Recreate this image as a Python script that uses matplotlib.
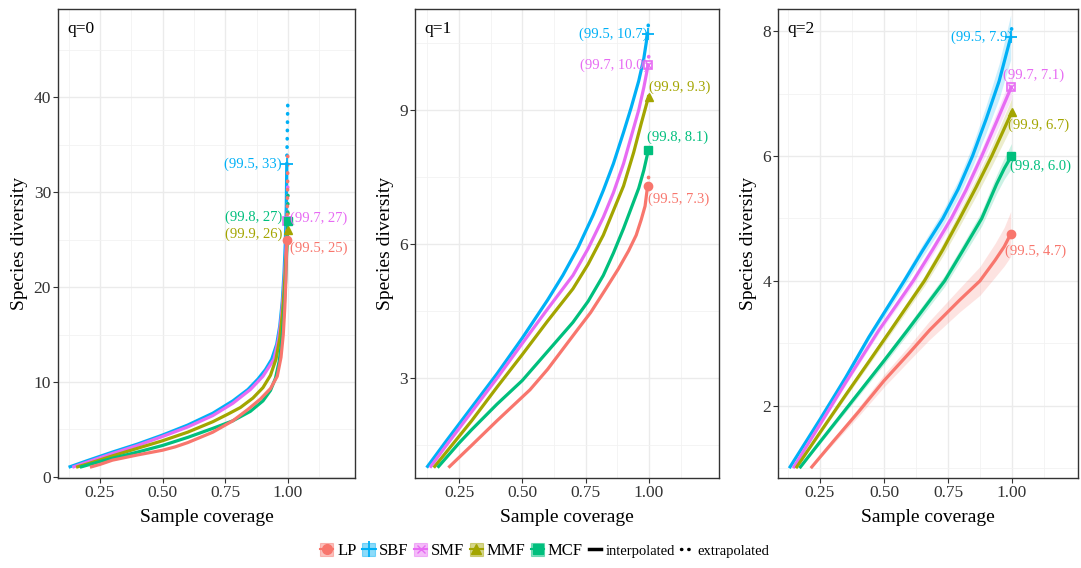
import matplotlib
matplotlib.use("Agg")
import matplotlib.pyplot as plt
from matplotlib.lines import Line2D
from matplotlib.patches import Patch
from matplotlib.legend_handler import HandlerTuple
from matplotlib.ticker import FixedLocator

plt.rcParams['font.family'] = ['Liberation Serif', 'DejaVu Serif']

names = ['LP', 'SBF', 'SMF', 'MMF', 'MCF']
colors = {'LP': '#F8766D', 'SBF': '#00B0F6', 'SMF': '#E76BF3',
          'MMF': '#A3A500', 'MCF': '#00BF7D'}
markers = {'LP': 'o', 'SBF': '+', 'SMF': 's', 'MMF': '^', 'MCF': 's'}

# ---- q = 0 ----
q0_x = {
    'SBF': [0.125, 0.2, 0.3, 0.4, 0.5, 0.6, 0.7, 0.78, 0.84, 0.88, 0.91, 0.935, 0.955, 0.967, 0.977, 0.984, 0.989, 0.993, 0.995],
    'SMF': [0.14, 0.2, 0.3, 0.4, 0.5, 0.6, 0.7, 0.78, 0.85, 0.9, 0.944, 0.962, 0.972, 0.982, 0.989, 0.994, 0.997],
    'MMF': [0.155, 0.2, 0.3, 0.4, 0.5, 0.6, 0.7, 0.76, 0.81, 0.86, 0.9, 0.93, 0.952, 0.967, 0.978, 0.986, 0.992, 0.999],
    'MCF': [0.17, 0.25, 0.3, 0.4, 0.5, 0.6, 0.7, 0.78, 0.85, 0.9, 0.93, 0.95, 0.965, 0.976, 0.984, 0.99, 0.995, 0.998],
    'LP':  [0.21, 0.25, 0.3, 0.4, 0.5, 0.55, 0.6, 0.7, 0.78, 0.84, 0.89, 0.93, 0.957, 0.972, 0.981, 0.987, 0.991, 0.995],
}
q0_y = {
    'SBF': [1, 1.7, 2.6, 3.45, 4.4, 5.45, 6.7, 8.0, 9.2, 10.3, 11.3, 12.4, 14.0, 15.9, 18.5, 21.5, 24.5, 28.5, 33],
    'SMF': [1, 1.55, 2.45, 3.3, 4.25, 5.25, 6.45, 7.75, 9.2, 10.6, 12.4, 14.5, 16.5, 19.4, 22.5, 25, 27],
    'MMF': [1, 1.35, 2.2, 3.0, 3.8, 4.7, 5.8, 6.6, 7.3, 8.3, 9.4, 10.7, 12.4, 14.6, 17.3, 20.3, 23, 26],
    'MCF': [1, 1.6, 1.95, 2.6, 3.3, 4.15, 5.1, 5.9, 6.9, 8.0, 9.1, 10.4, 12.2, 14.6, 17.5, 20.5, 24, 27],
    'LP':  [1, 1.3, 1.75, 2.3, 2.8, 3.15, 3.6, 4.7, 5.9, 7.1, 8.2, 9.3, 10.6, 12.6, 15, 17.8, 20.5, 25],
}
q0_ext_x = {'SBF': [0.995, 0.997, 0.999], 'SMF': [0.997, 0.999], 'MMF': [0.999, 1.0],
            'MCF': [0.998, 0.9995], 'LP': [0.995, 0.998, 0.999]}
q0_ext_y = {'SBF': [33, 36, 39.4], 'SMF': [27, 31], 'MMF': [26, 28.5],
            'MCF': [27, 30], 'LP': [25, 30, 34.5]}
q0_labels = {'SBF': '(99.5, 33)', 'SMF': '(99.7, 27)', 'MMF': '(99.9, 26)',
             'MCF': '(99.8, 27)', 'LP': '(99.5, 25)'}

# ---- q = 1 ----
q1_x = {
    'SBF': [0.122, 0.2, 0.3, 0.4, 0.5, 0.6, 0.66, 0.72, 0.78, 0.82, 0.86, 0.9, 0.93, 0.96, 0.98, 0.995],
    'SMF': [0.135, 0.2, 0.3, 0.4, 0.5, 0.6, 0.7, 0.76, 0.82, 0.86, 0.9, 0.93, 0.96, 0.98, 0.997],
    'MMF': [0.15, 0.2, 0.3, 0.4, 0.5, 0.6, 0.7, 0.76, 0.82, 0.86, 0.9, 0.94, 0.97, 0.999],
    'MCF': [0.165, 0.25, 0.3, 0.4, 0.5, 0.6, 0.7, 0.76, 0.82, 0.86, 0.9, 0.93, 0.96, 0.98, 0.998],
    'LP':  [0.208, 0.3, 0.4, 0.53, 0.6, 0.66, 0.72, 0.77, 0.83, 0.88, 0.92, 0.95, 0.97, 0.985, 0.995],
}
q1_y = {
    'SBF': [1, 1.6, 2.35, 3.1, 3.9, 4.75, 5.3, 5.92, 6.65, 7.2, 7.8, 8.5, 9.05, 9.65, 10.15, 10.7],
    'SMF': [1, 1.5, 2.25, 3.0, 3.78, 4.55, 5.3, 5.9, 6.6, 7.15, 7.8, 8.4, 9.0, 9.5, 10.0],
    'MMF': [1, 1.35, 2.05, 2.8, 3.53, 4.28, 5.0, 5.55, 6.2, 6.75, 7.3, 8.05, 8.7, 9.3],
    'MCF': [1, 1.55, 1.85, 2.42, 2.95, 3.6, 4.25, 4.72, 5.3, 5.8, 6.35, 6.8, 7.25, 7.65, 8.1],
    'LP':  [1, 1.5, 2.05, 2.74, 3.2, 3.65, 4.1, 4.47, 5.0, 5.45, 5.85, 6.2, 6.55, 6.85, 7.3],
}
q1_ext_x = {'SBF': [0.995, 0.999], 'SMF': [0.997, 0.9995], 'MMF': [0.999, 1.0],
            'MCF': [0.998, 0.9995], 'LP': [0.995, 0.999]}
q1_ext_y = {'SBF': [10.7, 11.0], 'SMF': [10.0, 10.2], 'MMF': [9.3, 9.4],
            'MCF': [8.1, 8.2], 'LP': [7.3, 7.5]}
q1_labels = {'SBF': '(99.5, 10.7)', 'SMF': '(99.7, 10.0)', 'MMF': '(99.9, 9.3)',
             'MCF': '(99.8, 8.1)', 'LP': '(99.5, 7.3)'}

# ---- q = 2 ----
q2_x = {
    'SBF': [0.13, 0.25, 0.35, 0.441, 0.51, 0.579, 0.65, 0.73, 0.79, 0.846, 0.9, 0.95, 0.995],
    'SMF': [0.145, 0.25, 0.35, 0.48, 0.55, 0.614, 0.69, 0.763, 0.82, 0.882, 0.94, 0.997],
    'MMF': [0.156, 0.25, 0.35, 0.44, 0.526, 0.658, 0.73, 0.796, 0.86, 0.921, 0.96, 0.999],
    'MCF': [0.17, 0.25, 0.4, 0.5, 0.592, 0.737, 0.81, 0.882, 0.94, 0.97, 0.998],
    'LP':  [0.214, 0.3, 0.4, 0.5, 0.6, 0.678, 0.795, 0.875, 0.934, 0.97, 0.995],
}
q2_y = {
    'SBF': [1, 1.78, 2.45, 3.1, 3.55, 4.0, 4.48, 5.0, 5.47, 6.0, 6.6, 7.2, 7.9],
    'SMF': [1, 1.7, 2.37, 3.21, 3.62, 4.0, 4.5, 5.0, 5.45, 6.0, 6.55, 7.1],
    'MMF': [1, 1.57, 2.17, 2.7, 3.21, 4.0, 4.5, 5.0, 5.5, 6.0, 6.35, 6.7],
    'MCF': [1, 1.42, 2.2, 2.72, 3.21, 4.0, 4.5, 5.0, 5.55, 5.8, 6.0],
    'LP':  [1, 1.42, 1.9, 2.4, 2.85, 3.21, 3.69, 4.0, 4.33, 4.55, 4.75],
}
q2_band = {
    'SBF': [0, 0.03, 0.04, 0.05, 0.07, 0.08, 0.1, 0.12, 0.14, 0.17, 0.22, 0.28, 0.36],
    'SMF': [0, 0.03, 0.04, 0.05, 0.06, 0.07, 0.08, 0.09, 0.1, 0.12, 0.15, 0.18],
    'MMF': [0, 0.03, 0.04, 0.05, 0.06, 0.08, 0.1, 0.12, 0.14, 0.16, 0.19, 0.22],
    'MCF': [0, 0.03, 0.05, 0.06, 0.07, 0.09, 0.1, 0.12, 0.15, 0.17, 0.2],
    'LP':  [0, 0.04, 0.07, 0.1, 0.12, 0.15, 0.19, 0.23, 0.27, 0.31, 0.36],
}
q2_ext_x = {'SBF': [0.995, 0.999], 'SMF': [0.997, 0.9995], 'MMF': [0.999, 1.0],
            'MCF': [0.998, 0.9995], 'LP': [0.995, 0.999]}
q2_ext_y = {'SBF': [7.9, 8.05], 'SMF': [7.1, 7.2], 'MMF': [6.7, 6.75],
            'MCF': [6.0, 6.05], 'LP': [4.75, 4.85]}
q2_labels = {'SBF': '(99.5, 7.9)', 'SMF': '(99.7, 7.1)', 'MMF': '(99.9, 6.7)',
             'MCF': '(99.8, 6.0)', 'LP': '(99.5, 4.7)'}

# label placement: (ha, dx in points, dy in data units)
q0_place = {'SBF': ('right', -4, 0), 'SMF': ('left', 2, 0.3), 'MMF': ('right', -4, -0.4),
            'MCF': ('right', -4, 0.4), 'LP': ('left', 2, -0.9)}
q1_place = {'SBF': ('right', 0, 0), 'SMF': ('right', 0, 0), 'MMF': ('left', 0, 0.2),
            'MCF': ('left', -1, 0.3), 'LP': ('left', 0, -0.3)}
q2_place = {'SBF': ('right', 1, 0), 'SMF': ('left', -6, 0.2), 'MMF': ('left', -3, -0.2),
            'MCF': ('left', -1, -0.16), 'LP': ('left', -4, -0.27)}

panels = [
    ('q=0', q0_x, q0_y, None, q0_ext_x, q0_ext_y, q0_labels, q0_place,
     (-0.1, 49.3), [0, 10, 20, 30, 40], [5, 15, 25, 35, 45]),
    ('q=1', q1_x, q1_y, None, q1_ext_x, q1_ext_y, q1_labels, q1_place,
     (0.776, 11.25), [3, 6, 9], [1.5, 4.5, 7.5, 10.5]),
    ('q=2', q2_x, q2_y, q2_band, q2_ext_x, q2_ext_y, q2_labels, q2_place,
     (0.848, 8.35), [2, 4, 6, 8], [1, 3, 5, 7]),
]
# axes rectangles (figure fractions)
rects = [[0.0537, 0.159, 0.2747, 0.8246],
         [0.3839, 0.159, 0.2812, 0.8246],
         [0.7197, 0.159, 0.2775, 0.8246]]
xlims = [(0.083, 1.267), (0.076, 1.277), (0.086, 1.258)]

fig = plt.figure(figsize=(10.81, 5.68), dpi=100)

for rect, xl, p in zip(rects, xlims, panels):
    title, xs, ys, band, ex, ey, labs, place, yl, ymaj, ymin = p
    ax = fig.add_axes(rect)
    for n in ['SBF', 'SMF', 'MMF', 'MCF', 'LP']:
        c = colors[n]
        if band is not None:
            lo = [a - b for a, b in zip(ys[n], band[n])]
            hi = [a + b for a, b in zip(ys[n], band[n])]
            ax.fill_between(xs[n], lo, hi, color=c, alpha=0.2, lw=0)
        ax.plot(xs[n], ys[n], color=c, lw=2.3, solid_capstyle='butt',
                solid_joinstyle='round', zorder=3)
        ax.plot(ex[n], ey[n], color=c, lw=2.6, ls=(0, (0.1, 2.2)),
                dash_capstyle='round', zorder=3)
        if n == 'SMF':
            ax.plot(xs[n][-1], ys[n][-1], marker='s', ms=6, mfc='none', mec=c, mew=1.2, zorder=4)
            ax.plot(xs[n][-1], ys[n][-1], marker='x', ms=5, color=c, mew=1.0, zorder=4)
        elif n == 'SBF':
            ax.plot(xs[n][-1], ys[n][-1], marker='+', ms=9, color=c, mew=1.3, zorder=4)
        else:
            ax.plot(xs[n][-1], ys[n][-1], marker=markers[n], ms=6, color=c, zorder=4)
        ha, dx, dy = place[n]
        ax.annotate(labs[n], (xs[n][-1], ys[n][-1] + dy), xytext=(dx, 0),
                    textcoords='offset points', ha=ha, va='center',
                    color=c, fontsize=10.5, zorder=5)
    ax.set_xlim(*xl)
    ax.set_ylim(*yl)
    ax.xaxis.set_major_locator(FixedLocator([0.25, 0.5, 0.75, 1.0]))
    ax.xaxis.set_minor_locator(FixedLocator([0.125, 0.375, 0.625, 0.875, 1.125]))
    ax.set_xticklabels(['0.25', '0.50', '0.75', '1.00'])
    ax.yaxis.set_major_locator(FixedLocator(ymaj))
    ax.yaxis.set_minor_locator(FixedLocator(ymin))
    ax.grid(which='major', color='#EBEBEB', lw=1.0)
    ax.grid(which='minor', color='#F2F2F2', lw=0.6)
    ax.set_axisbelow(True)
    ax.tick_params(which='major', length=3.5, width=0.8, color='#333333',
                   labelsize=12.5, labelcolor='#333333', pad=1.5)
    ax.tick_params(which='minor', length=0)
    for s in ax.spines.values():
        s.set_color('#333333')
        s.set_linewidth(1.0)
    ax.set_xlabel('Sample coverage', fontsize=14, labelpad=6)
    ax.set_ylabel('Species diversity', fontsize=14, labelpad=4)
    ax.text(0.03, 0.975, title, transform=ax.transAxes, ha='left', va='top', fontsize=12.5)

handles = []
for n in names:
    c = colors[n]
    pt = Patch(facecolor=c, edgecolor=c, alpha=0.45, lw=0.8)
    if n == 'SMF':
        handles.append((pt, Line2D([], [], color=c, lw=1.5),
                        Line2D([], [], marker='x', ms=6, color=c, ls='none')))
    elif n == 'SBF':
        handles.append((pt, Line2D([], [], color=c, lw=1.5, marker='+', ms=11, mew=1.3)))
    else:
        handles.append((pt, Line2D([], [], color=c, lw=1.5, marker=markers[n], ms=7)))
handles.append(Line2D([], [], color='black', lw=2.5))
handles.append(Line2D([], [], color='black', lw=2.5, ls=(0, (0.1, 2.0)), dash_capstyle='round'))
labels = names + ['interpolated', 'extrapolated']

leg = fig.legend(handles, labels, loc='center', bbox_to_anchor=(0.504, 0.03), ncol=7,
                 frameon=False, handlelength=0.75, handleheight=0.8, handletextpad=0.25,
                 columnspacing=0.35, fontsize=12,
                 handler_map={tuple: HandlerTuple(ndivide=1, pad=0)})
for t in leg.get_texts()[5:]:
    t.set_fontsize(10.5)

fig.savefig('out.png', dpi=100)
